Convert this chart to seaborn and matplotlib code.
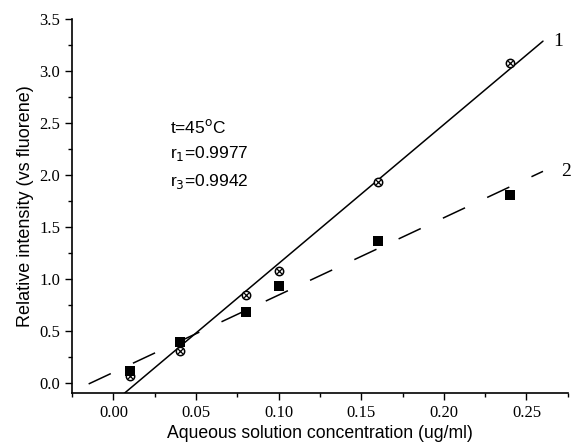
import numpy as np
import pandas as pd
import matplotlib
matplotlib.use("Agg")
import matplotlib.pyplot as plt
from matplotlib.ticker import MultipleLocator
import seaborn as sns

# data
conc = [0.01, 0.04, 0.08, 0.10, 0.16, 0.24]
series1 = [0.06, 0.30, 0.84, 1.07, 1.93, 3.08]
series2 = [0.11, 0.39, 0.68, 0.93, 1.36, 1.81]
line_labels = ["1", "2"]
annot = ["t=45$^{\\rm o}$C", "r$_1$=0.9977", "r$_3$=0.9942"]

sns.set_style("ticks")
plt.rcParams["font.family"] = ["Liberation Sans", "DejaVu Sans"]
plt.rcParams["text.color"] = "black"
plt.rcParams["axes.labelcolor"] = "black"
plt.rcParams["xtick.color"] = "black"
plt.rcParams["ytick.color"] = "black"

df = pd.DataFrame({"conc": conc, "s1": series1, "s2": series2})

fig = plt.figure(figsize=(5.77, 4.44), dpi=100)
ax = fig.add_axes([0.125, 0.115, 0.859, 0.842])

# fitted lines
xfit = np.array([-0.015, 0.260])
p1 = np.polyfit(df["conc"], df["s1"], 1)
p2 = np.polyfit(df["conc"], df["s2"], 1)
sns.lineplot(x=xfit, y=np.polyval(p1, xfit), ax=ax, color="black", lw=1.1)
sns.lineplot(x=xfit, y=np.polyval(p2, xfit), ax=ax, color="black", lw=1.1)
ax.lines[-1].set_dashes([16, 16])

# points
sns.scatterplot(data=df, x="conc", y="s1", ax=ax, marker="o", s=36,
                facecolor="white", edgecolor="black", linewidth=1.1, zorder=3)
sns.scatterplot(data=df, x="conc", y="s1", ax=ax, marker="x", s=14,
                color="black", linewidth=0.9, zorder=4)
sns.scatterplot(data=df, x="conc", y="s2", ax=ax, marker="s", s=42,
                color="black", linewidth=0, zorder=3)

ax.text(0.266, np.polyval(p1, 0.260), line_labels[0], fontsize=14,
        family="Liberation Serif", va="center")
ax.text(0.271, np.polyval(p2, 0.260), line_labels[1], fontsize=14,
        family="Liberation Serif", va="center")
ax.text(0.034, 2.55, "\n".join(annot), fontsize=12.5, va="top", linespacing=1.6)

ax.set_xlim(-0.025, 0.275)
ax.set_ylim(-0.1, 3.5)
ax.xaxis.set_minor_locator(MultipleLocator(0.025))
ax.yaxis.set_minor_locator(MultipleLocator(0.25))
xt = np.arange(0, 0.26, 0.05)
yt = np.arange(0, 3.51, 0.5)
ax.set_xticks(xt)
ax.set_xticklabels(["%.2f" % v for v in xt])
ax.set_yticks(yt)
ax.set_yticklabels(["%.1f" % v for v in yt])
ax.tick_params(which="major", length=5, width=1, direction="out", color="black",
               labelsize=12, labelfontfamily="Liberation Serif")
ax.tick_params(which="minor", length=3, width=1, direction="out", color="black")
for s in ["left", "bottom"]:
    ax.spines[s].set_linewidth(1.2)
    ax.spines[s].set_color("black")
sns.despine(ax=ax)

ax.set_xlabel("Aqueous solution concentration (ug/ml)", fontsize=12.7, labelpad=3)
ax.set_ylabel("Relative intensity (vs fluorene)", fontsize=13, labelpad=4)

fig.savefig("out.png", dpi=100)
